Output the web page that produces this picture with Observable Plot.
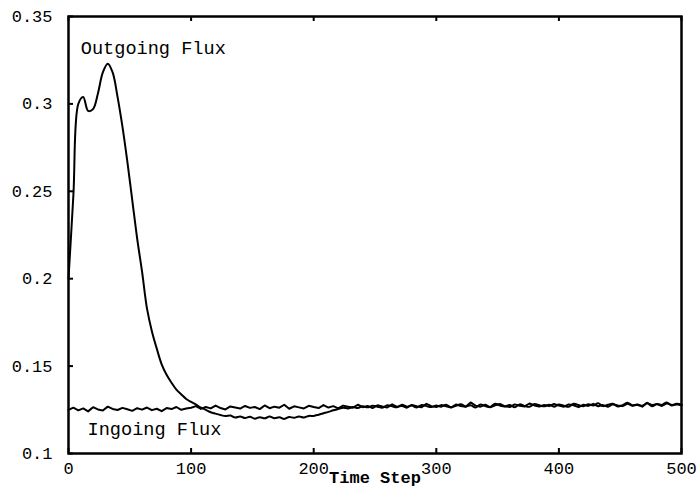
<!DOCTYPE html>
<html>
<head>
<meta charset="utf-8">
<script src="https://cdn.jsdelivr.net/npm/d3@7"></script>
<script src="https://cdn.jsdelivr.net/npm/@observablehq/plot@0.6"></script>
<style>
  html, body { margin: 0; padding: 0; background: #fff; }
  #chart { width: 700px; height: 488px; }
</style>
</head>
<body>
<div id="chart"></div>
<script>
// Time steps sampled every 4 steps, 0..500
const timeSteps = d3.range(0, 501, 4);

const outgoingFlux = [
  0.200, 0.248, 0.300, 0.304, 0.296, 0.297, 0.306, 0.318, 0.323, 0.318,
  0.304, 0.287, 0.267, 0.245, 0.223, 0.204, 0.183, 0.170, 0.160, 0.151,
  0.1450, 0.1405, 0.1365, 0.1338, 0.1312,
  0.1295, 0.1280, 0.1262, 0.1250, 0.1236, 0.1228, 0.1220, 0.1214, 0.1217, 0.1206,
  0.1212, 0.1203, 0.1210, 0.1199, 0.1208, 0.1201, 0.1211, 0.1202, 0.1207, 0.1198,
  0.1209, 0.1204, 0.1212, 0.1206, 0.1215,
  0.1215, 0.1222, 0.1230, 0.1238, 0.1247, 0.1255, 0.1262, 0.1258, 0.1266, 0.1260,
  0.1270, 0.1264, 0.1273, 0.1268, 0.1262, 0.1276, 0.1270, 0.1265, 0.1279, 0.1268,
  0.1274, 0.1263, 0.1277, 0.1271, 0.1266,
  0.1274, 0.1268, 0.1279, 0.1265, 0.1273, 0.1282, 0.1269, 0.1276, 0.1263, 0.1280,
  0.1271, 0.1266, 0.1285, 0.1274, 0.1269, 0.1278, 0.1264, 0.1281, 0.1272, 0.1267,
  0.1283, 0.1276, 0.1270, 0.1279, 0.1268,
  0.1280, 0.1273, 0.1267, 0.1285, 0.1277, 0.1270, 0.1282, 0.1274, 0.1288, 0.1271,
  0.1279, 0.1284, 0.1269, 0.1277, 0.1290, 0.1275, 0.1281, 0.1273, 0.1287, 0.1270,
  0.1283, 0.1278, 0.1292, 0.1274, 0.1285, 0.1279
];

const ingoingFlux = [
  0.1250, 0.1262, 0.1247, 0.1258, 0.1241, 0.1265, 0.1252, 0.1246, 0.1268, 0.1255,
  0.1249, 0.1261, 0.1253, 0.1244, 0.1259, 0.1251, 0.1263, 0.1248, 0.1256, 0.1242,
  0.1260, 0.1254, 0.1266, 0.1250, 0.1257,
  0.1262, 0.1271, 0.1255, 0.1266, 0.1258, 0.1274, 0.1260, 0.1252, 0.1269, 0.1263,
  0.1257, 0.1272, 0.1261, 0.1266, 0.1254, 0.1275, 0.1259, 0.1268, 0.1262, 0.1279,
  0.1256, 0.1270, 0.1264, 0.1258, 0.1273,
  0.1266, 0.1260, 0.1277, 0.1263, 0.1271, 0.1258, 0.1274, 0.1268, 0.1262, 0.1279,
  0.1265, 0.1272, 0.1260, 0.1276, 0.1269, 0.1263, 0.1281, 0.1267, 0.1273, 0.1262,
  0.1278, 0.1270, 0.1265, 0.1284, 0.1271,
  0.1266, 0.1277, 0.1270, 0.1263, 0.1280, 0.1272, 0.1267, 0.1292, 0.1274, 0.1268,
  0.1279, 0.1264, 0.1276, 0.1283, 0.1270, 0.1266, 0.1281, 0.1273, 0.1269, 0.1286,
  0.1275, 0.1268, 0.1278, 0.1271, 0.1283,
  0.1274, 0.1268, 0.1281, 0.1276, 0.1265, 0.1279, 0.1272, 0.1284, 0.1270, 0.1277,
  0.1267, 0.1282, 0.1275, 0.1271, 0.1286, 0.1273, 0.1279, 0.1268, 0.1290, 0.1276,
  0.1283, 0.1272, 0.1287, 0.1278, 0.1281, 0.1276
];

const xTicks = [0, 100, 200, 300, 400, 500];
const xTickLabels = ["0", "100", "200", "300", "400", "500"];
const yTicks = [0.1, 0.15, 0.2, 0.25, 0.3, 0.35];
const yTickLabels = ["0.1", "0.15", "0.2", "0.25", "0.3", "0.35"];

const seriesNames = ["Outgoing Flux", "Ingoing Flux"];
const labelT = [10, 15.5];
const labelV = [0.332, 0.1138];
const xTitle = "Time Step";

const outgoing = timeSteps.map((t, i) => ({t, v: outgoingFlux[i]}));
const ingoing = timeSteps.map((t, i) => ({t, v: ingoingFlux[i]}));
const labels = seriesNames.map((name, i) => ({name, t: labelT[i], v: labelV[i]}));

const font = "'Liberation Mono', 'DejaVu Sans Mono', monospace";

const chart = Plot.plot({
  width: 700,
  height: 488,
  marginLeft: 68,
  marginRight: 19,
  marginTop: 16,
  marginBottom: 35,
  style: {fontFamily: font, fontSize: "17px", color: "#000", background: "#fff"},
  x: {domain: [0, 500]},
  y: {domain: [0.1, 0.35]},
  marks: [
    Plot.line(ingoing, {x: "t", y: "v", stroke: "#000", strokeWidth: 2, curve: "linear"}),
    Plot.line(outgoing, {x: "t", y: "v", stroke: "#000", strokeWidth: 2, curve: "catmull-rom"}),
    Plot.ruleX(xTicks, {x: d => d, y1: 0.1, y2: 0.1, insetTop: -5, stroke: "#000", strokeWidth: 2}),
    Plot.ruleX(xTicks, {x: d => d, y1: 0.35, y2: 0.35, insetBottom: -5, stroke: "#000", strokeWidth: 2}),
    Plot.ruleY(yTicks, {y: d => d, x1: 0, x2: 0, insetRight: -5, stroke: "#000", strokeWidth: 2}),
    Plot.frame({stroke: "#000", strokeWidth: 2.5}),
    Plot.axisX({ticks: xTicks, tickFormat: (d) => xTickLabels[xTicks.indexOf(d)], tickSize: 0, tickPadding: 8, label: null}),
    Plot.axisY({ticks: yTicks, tickFormat: (d) => yTickLabels[yTicks.indexOf(d)], tickSize: 0, tickPadding: 16, label: null}),
    Plot.text([xTitle], {frameAnchor: "bottom", dy: 29, text: d => d, fontSize: 17, fontWeight: "bold", fill: "#000"}),
    Plot.text(labels, {x: "t", y: "v", text: "name", textAnchor: "start", fontSize: 18.6, fill: "#000"})
  ]
});

document.getElementById("chart").appendChild(chart);
</script>
</body>
</html>
